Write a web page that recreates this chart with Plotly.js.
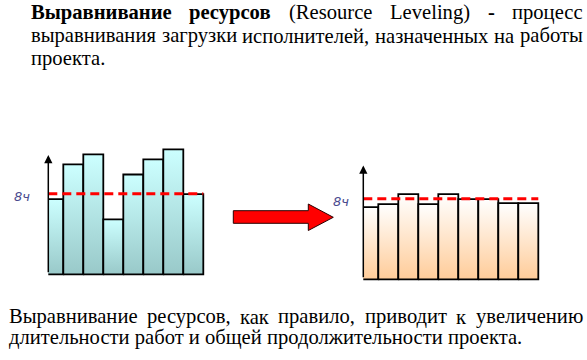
<!DOCTYPE html>
<html><head><meta charset="utf-8">
<script src="https://cdn.plot.ly/plotly-3.0.1.min.js"></script>
<style>html,body{margin:0;padding:0;background:#fff;overflow:hidden}</style>
</head><body><div id="chart" style="width:587px;height:360px"></div>
<script>
// ---------- data ----------
const loadsBefore = [7.45, 10.9, 11.9, 5.45, 9.9, 11.4, 12.4, 7.95];
const loadsAfter  = [7.15, 7.45, 8.45, 7.45, 8.45, 7.95, 7.95, 7.55, 7.55];
const normHours = 8;
const normLabel = "8ч";
const introLines = [
  [["Выравнивание",1],["ресурсов",1],["(Resource",0],["Leveling)",0],["-",1],["процесс",0]],
  [["выравнивания",0],["загрузки",0],["исполнителей,",0],["назначенных",0],["на",0],["работы",0]],
  [["проекта.",0]]
];
const conclusionLines = [
  [["Выравнивание",0],["ресурсов,",0],["как",0],["правило,",0],["приводит",0],["к",0],["увеличению",0]],
  [["длительности работ и общей продолжительности проекта.",0]]
];

// ---------- layout helpers ----------
const W = 587, H = 360;
const px = x => x / W, py = y => 1 - y / H;
const FS = 20.6, FF = 'Liberation Serif';
const ctx = document.createElement('canvas').getContext('2d');
function measure(t, b){ ctx.font = (b ? 'bold ' : '') + FS + 'px "' + FF + '"'; return ctx.measureText(t).width; }

const annotations = [];
function addParagraph(lines, left, right, mids, justifyCount){
  lines.forEach((words, li) => {
    const widths = words.map(w => measure(w[0], w[1]));
    const total = widths.reduce((a, b) => a + b, 0);
    const justify = li < justifyCount && words.length > 1;
    const gap = justify ? (right - left - total) / (words.length - 1) : measure(' ', 0);
    let x = left;
    words.forEach((w, i) => {
      annotations.push({xref:'paper', yref:'paper', x: px(x), y: py(mids[li]), xanchor:'left', yanchor:'middle',
        text: w[1] ? '<b>' + w[0] + '</b>' : w[0], showarrow:false, borderpad:0,
        font:{family:FF, size:FS, color:'#000'}});
      x += widths[i] + gap;
    });
  });
}
addParagraph(introLines, 30, 582, [12.4, 35.8, 58.8], 2);
addParagraph(conclusionLines, 8, 582, [316.6, 337.8], 1);

// ---------- bars ----------
const traces = [];
function addBars(loads, xa, ya, c0, c1){
  loads.forEach((v, i) => {
    traces.push({type:'scatter', mode:'lines', xaxis:xa, yaxis:ya, fill:'toself',
      x:[i, i, i + 1, i + 1, i], y:[0, v, v, 0, 0],
      line:{color:'#000', width:1.8},
      fillgradient:{type:'vertical', start:0, stop:v, colorscale:[[0, c0], [1, c1]]},
      hoverinfo:'skip', showlegend:false});
  });
  traces.push({type:'scatter', mode:'lines', xaxis:xa, yaxis:ya,
    x:[0.25, loads.length], y:[normHours, normHours],
    line:{color:'#FF0000', width:3, dash:'9px,5px'}, hoverinfo:'skip', showlegend:false});
}
addBars(loadsBefore, 'x', 'y', '#99C9C9', '#CCFFFF');
addBars(loadsAfter, 'x2', 'y2', '#FFCC99', '#FFFFFF');

// axis arrows
function axisArrow(xr, yr, top){
  annotations.push({xref:xr, yref:yr, axref:xr, ayref:yr, x:0.25, y:top, ax:0.25, ay:0,
    text:' ', font:{size:1}, showarrow:true, arrowhead:2, arrowsize:1.1, arrowwidth:1.5, arrowcolor:'#000', standoff:0});
}
axisArrow('x', 'y', 11.84);
axisArrow('x2', 'y2', 11.3);

// norm labels
const lblFont = {family:'DejaVu Sans', size:13, color:'#4A4A8E', style:'italic'};
annotations.push({xref:'paper', yref:'y', x:px(21.5), y:7.7, xanchor:'center', yanchor:'middle', text:normLabel, showarrow:false, font:lblFont});
annotations.push({xref:'paper', yref:'y2', x:px(341), y:7.7, xanchor:'center', yanchor:'middle', text:normLabel, showarrow:false, font:lblFont});

// big red arrow
const arrowPts = [[233.3,210.7],[308.3,210.7],[308.3,204],[333.3,217.3],[308.3,230.5],[308.3,223.3],[233.3,223.3]];
const path = 'M ' + arrowPts.map(p => px(p[0]).toFixed(5) + ',' + py(p[1]).toFixed(5)).join(' L ') + ' Z';

const ax = {visible:false, showgrid:false, zeroline:false, fixedrange:true};
const layout = {
  width:W, height:H, margin:{l:0, r:0, t:0, b:0}, paper_bgcolor:'#fff', plot_bgcolor:'rgba(0,0,0,0)',
  showlegend:false,
  xaxis: Object.assign({}, ax, {domain:[px(48.3), px(205.3)], range:[0.25, 8.1]}),
  yaxis: Object.assign({}, ax, {domain:[py(276.3), py(143.24)], range:[-0.2, 13]}),
  xaxis2: Object.assign({}, ax, {domain:[px(363.3), px(540.3)], range:[0.25, 9.1]}),
  yaxis2: Object.assign({}, ax, {domain:[py(281.3), py(148.24)], range:[-0.2, 13]}),
  shapes:[{type:'path', xref:'paper', yref:'paper', path:path, fillcolor:'#FF0000', line:{color:'#2a0000', width:1}}],
  annotations: annotations
};
Plotly.newPlot('chart', traces, layout, {staticPlot:true, displayModeBar:false});
</script></body></html>
